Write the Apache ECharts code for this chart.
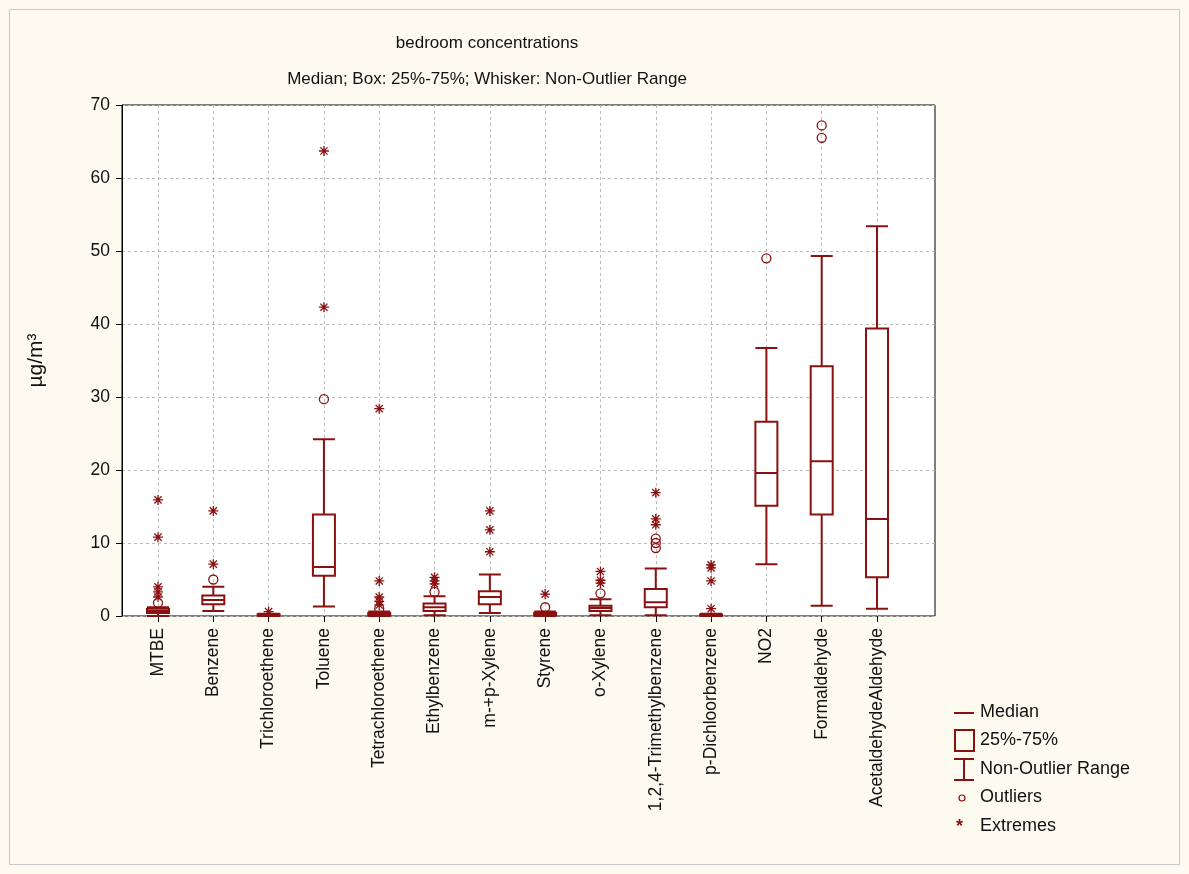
<!DOCTYPE html>
<html>
<head>
  <meta charset="UTF-8">
  <title>bedroom concentrations</title>
  <style>
    body { margin: 0; background: #fdfaf0; }
    #chart { width: 1189px; height: 874px; }
  </style>
  <script src="https://cdn.jsdelivr.net/npm/echarts@6/dist/echarts.min.js"></script>
</head>
<body>
  <div id="chart"></div>
  <script>
    var categories = ['MTBE', 'Benzene', 'Trichloroethene', 'Toluene', 'Tetrachloroethene', 'Ethylbenzene',
      'm-+p-Xylene', 'Styrene', 'o-Xylene', '1,2,4-Trimethylbenzene', 'p-Dichloorbenzene', 'NO2',
      'Formaldehyde', 'AcetaldehydeAldehyde'];
    // [low whisker, Q1, median, Q3, high whisker]
    var boxValues = [
      [0.0, 0.4, 0.7, 1.0, 1.2],
      [0.7, 1.6, 2.2, 2.8, 4.0],
      [0.0, 0.05, 0.1, 0.25, 0.3],
      [1.3, 5.5, 6.7, 13.9, 24.2],
      [0.0, 0.1, 0.2, 0.4, 0.6],
      [0.1, 0.7, 1.2, 1.7, 2.7],
      [0.4, 1.6, 2.6, 3.4, 5.7],
      [0.0, 0.1, 0.2, 0.4, 0.6],
      [0.1, 0.7, 1.1, 1.4, 2.3],
      [0.1, 1.2, 1.9, 3.7, 6.5],
      [0.0, 0.05, 0.1, 0.2, 0.3],
      [7.1, 15.1, 19.6, 26.6, 36.7],
      [1.4, 13.9, 21.2, 34.2, 49.3],
      [1.0, 5.3, 13.3, 39.4, 53.4]
    ];
    // [category index, value]
    var outliers = [
      [0, 1.8], [1, 5.0], [3, 29.7], [4, 1.0], [5, 3.3], [7, 1.2], [8, 3.1],
      [9, 9.3], [9, 10.0], [9, 10.6], [11, 49.0], [12, 65.5], [12, 67.2]
    ];
    var extremes = [
      [0, 15.9], [0, 10.8], [0, 4.0], [0, 3.3], [0, 2.6],
      [1, 7.1], [1, 14.4], [2, 0.6],
      [3, 42.3], [3, 63.7],
      [4, 28.4], [4, 4.8], [4, 2.6], [4, 2.0], [4, 1.5],
      [5, 5.3], [5, 4.8], [5, 4.4],
      [6, 8.8], [6, 11.8], [6, 14.4],
      [7, 3.0],
      [8, 4.5], [8, 4.9], [8, 6.1],
      [9, 12.5], [9, 13.3], [9, 16.9],
      [10, 1.0], [10, 4.8], [10, 6.6], [10, 7.0]
    ];
    var yTicks = { min: 0, max: 70, interval: 10 };

    var red = '#8b1010';
    var star = 'path://M0,-5L0,5M-5,0L5,0M-3.6,-3.6L3.6,3.6M-3.6,3.6L3.6,-3.6';
    var font = 'Liberation Sans, Arial, sans-serif';

    var chart = echarts.init(document.getElementById('chart'));
    var legendItems = ['Median', '25%-75%', 'Non-Outlier Range', 'Outliers', 'Extremes'];
    var legendGraphics = [
      { type: 'rect', shape: { x: 9.5, y: 9.5, width: 1170, height: 855 },
        style: { fill: 'none', stroke: '#c8c8c8', lineWidth: 1 } }
    ];
    legendItems.forEach(function (t, i) {
      legendGraphics.push({ type: 'text', left: 980, top: 703 + i * 28.5,
        style: { text: t, font: '18px ' + font, fill: '#111' } });
    });
    legendGraphics.push(
      { type: 'line', shape: { x1: 954, y1: 713, x2: 974, y2: 713 }, style: { stroke: red, lineWidth: 2 } },
      { type: 'rect', shape: { x: 955, y: 730, width: 19, height: 21 }, style: { fill: 'none', stroke: red, lineWidth: 2 } },
      { type: 'polyline', shape: { points: [[954, 759], [974, 759]] }, style: { stroke: red, lineWidth: 2 } },
      { type: 'polyline', shape: { points: [[964, 759], [964, 780]] }, style: { stroke: red, lineWidth: 2 } },
      { type: 'polyline', shape: { points: [[954, 780], [974, 780]] }, style: { stroke: red, lineWidth: 2 } },
      { type: 'circle', shape: { cx: 962, cy: 798, r: 3 }, style: { fill: 'none', stroke: red, lineWidth: 1.2 } },
      { type: 'text', left: 956, top: 818, style: { text: '*', font: 'bold 18px ' + font, fill: red } }
    );

    chart.setOption({
      backgroundColor: '#fdfaf0',
      animation: false,
      title: [
        { text: 'bedroom concentrations', left: 482, top: 30, textAlign: 'center',
          textStyle: { fontSize: 17, fontWeight: 'normal', color: '#111', fontFamily: font } },
        { text: 'Median; Box: 25%-75%; Whisker: Non-Outlier Range', left: 482, top: 66, textAlign: 'center',
          textStyle: { fontSize: 17, fontWeight: 'normal', color: '#111', fontFamily: font } }
      ],
      grid: [
        { left: 122, right: 1189 - 935, top: 105, bottom: 874 - 616, show: true,
          backgroundColor: '#ffffff', borderColor: '#000', borderWidth: 1 },
        { left: 158, right: 1189 - 877, top: 105, bottom: 874 - 616 }
      ],
      xAxis: [
        { gridIndex: 0, type: 'value', min: 0, max: 1, show: false },
        { gridIndex: 1, type: 'category', data: categories, boundaryGap: false,
          axisLine: { show: false },
          axisTick: { show: true, length: 6, lineStyle: { color: '#000' } },
          splitLine: { show: true, lineStyle: { color: '#bbb', type: [3, 3] } },
          axisLabel: { rotate: 90, interval: 0, fontSize: 17.5, color: '#111', fontFamily: font, margin: 12 } }
      ],
      yAxis: [
        { gridIndex: 0, type: 'value', min: yTicks.min, max: yTicks.max, interval: yTicks.interval,
          name: 'µg/m³', nameLocation: 'middle', nameGap: 75, nameRotate: 90,
          nameTextStyle: { fontSize: 21, color: '#111', fontFamily: font },
          axisLine: { show: true, lineStyle: { color: '#000' } },
          axisTick: { show: true, length: 6, inside: false, lineStyle: { color: '#000' } },
          splitLine: { show: true, lineStyle: { color: '#bbb', type: [3, 3] } },
          axisLabel: { fontSize: 17.5, color: '#111', fontFamily: font, margin: 12 } },
        { gridIndex: 1, type: 'value', min: yTicks.min, max: yTicks.max, interval: yTicks.interval, show: false }
      ],
      graphic: legendGraphics,
      series: [
        { type: 'boxplot', xAxisIndex: 1, yAxisIndex: 1, data: boxValues, boxWidth: [22, 22],
          itemStyle: { color: '#fff', borderColor: red, borderWidth: 2 } },
        { type: 'scatter', xAxisIndex: 1, yAxisIndex: 1, data: outliers, symbol: 'circle', symbolSize: 9,
          itemStyle: { color: 'rgba(0,0,0,0)', borderColor: red, borderWidth: 1.3, opacity: 1 } },
        { type: 'scatter', xAxisIndex: 1, yAxisIndex: 1, data: extremes, symbol: star, symbolSize: 10,
          itemStyle: { color: 'rgba(0,0,0,0)', borderColor: red, borderWidth: 1.3, opacity: 1 } }
      ]
    });
  </script>
</body>
</html>
